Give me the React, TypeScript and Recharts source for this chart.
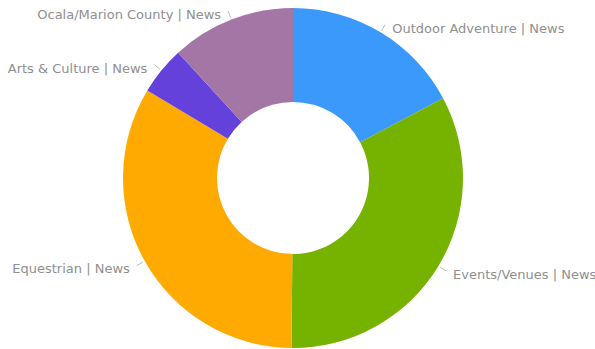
import { PieChart, Pie, Cell } from 'recharts';

const categories = [
  'Outdoor Adventure | News',
  'Events/Venues | News',
  'Equestrian | News',
  'Arts & Culture | News',
  'Ocala/Marion County | News',
];
const values = [62, 118.5, 120.5, 16.5, 42.5];
const colors = ['#3a99fb', '#76b300', '#ffaa00', '#6541dc', '#a476a6'];

const data = categories.map((name, i) => ({ name, value: values[i] }));

const RAD = Math.PI / 180;

const renderLabel = (props: any) => {
  const { cx, cy, midAngle, outerRadius, name } = props;
  const cos = Math.cos(-midAngle * RAD);
  const sin = Math.sin(-midAngle * RAD);
  const sx = cx + (outerRadius + 2) * cos;
  const sy = cy + (outerRadius + 2) * sin;
  const ex = cx + (outerRadius + 9) * cos;
  const ey = cy + (outerRadius + 9) * sin;
  const right = cos >= 0;
  const tx = ex + (right ? 7 : -7);
  return (
    <g>
      <path d={`M${sx},${sy}L${ex},${ey}`} stroke="#bbb" strokeWidth={1} fill="none" />
      <text
        x={tx}
        y={ey}
        dy={8}
        textAnchor={right ? 'start' : 'end'}
        fill="#8f8f8f"
        fontSize={13}
        fontFamily="DejaVu Sans, sans-serif"
      >
        {name}
      </text>
    </g>
  );
};

export default function App() {
  return (
    <div style={{ position: 'absolute', left: 0, top: 0, width: 595, height: 349, background: '#fff' }}>
      <PieChart width={595} height={349} margin={{ top: 0, right: 0, bottom: 0, left: 0 }}>
        <Pie
          data={data}
          dataKey="value"
          nameKey="name"
          cx={293}
          cy={178}
          innerRadius={76}
          outerRadius={170}
          startAngle={90}
          endAngle={-270}
          stroke="none"
          label={renderLabel}
          labelLine={false}
          isAnimationActive={false}
        >
          {data.map((d, i) => (
            <Cell key={d.name} fill={colors[i]} />
          ))}
        </Pie>
      </PieChart>
    </div>
  );
}
